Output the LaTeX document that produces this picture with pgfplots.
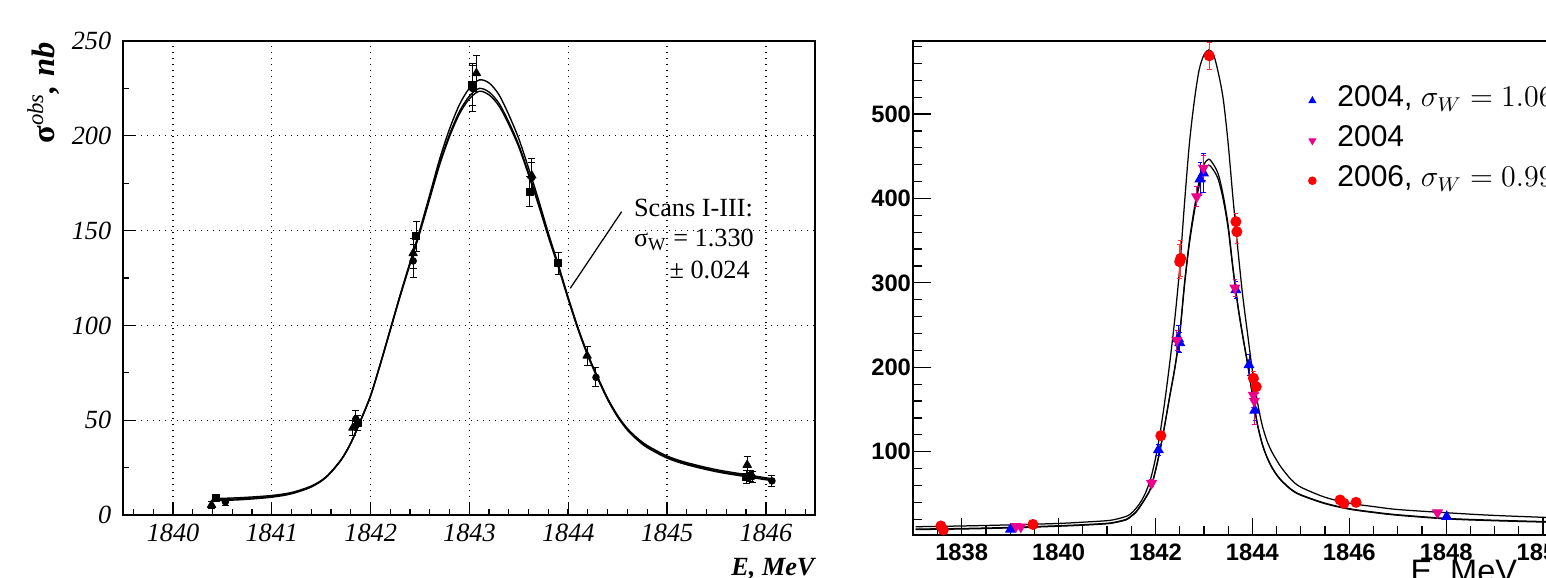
\documentclass[border=0pt]{standalone}
\usepackage{fontspec}
\setmainfont{Liberation Serif}
\newfontfamily\arial{Liberation Sans}
\usepackage{pgfplots}
\pgfplotsset{compat=1.18}
\usepackage{pgfplotstable}

% ---- left panel: fitted curves (three scans) ----
\pgfplotstableread{
x a b c
1840.40 8.6 8.0 7.5
1840.70 9.2 8.6 8.1
1841.00 10.3 9.8 9.4
1841.20 11.9 11.5 11.2
1841.40 15.3 15.0 14.8
1841.55 20.2 20.0 19.9
1841.70 29.2 29.0 28.9
1841.80 38.2 38.0 37.9
1841.90 50.2 50.0 49.9
1842.00 63.2 63.0 62.9
1842.10 80.2 80.0 79.8
1842.20 98.3 98.0 97.7
1842.30 116.4 116.0 115.6
1842.40 133.6 133.0 132.5
1842.50 150.9 150.0 149.3
1842.60 169.4 168.0 167.2
1842.70 188.1 186.0 185.0
1842.80 203.9 201.0 199.8
1842.90 216.6 213.0 211.7
1843.00 225.2 221.0 219.6
1843.10 229.5 225.0 223.5
1843.20 227.8 223.0 221.5
1843.30 221.5 217.0 215.6
1843.40 210.8 207.0 205.7
1843.50 198.3 195.0 193.9
1843.60 182.6 180.0 179.0
1843.70 166.0 164.0 163.2
1843.80 148.3 147.0 146.4
1843.90 131.8 131.0 130.5
1844.00 114.6 114.0 113.6
1844.10 98.5 98.0 97.6
1844.20 84.4 84.0 83.6
1844.30 72.4 72.0 71.6
1844.40 61.4 61.0 60.6
1844.50 52.4 52.0 51.6
1844.60 45.5 45.0 44.6
1844.70 40.5 40.0 39.5
1844.80 36.6 36.0 35.5
1845.00 31.1 30.5 30.0
1845.20 27.6 27.0 26.5
1845.50 23.9 23.3 22.8
1845.80 21.3 20.7 20.2
1846.05 19.2 18.7 18.2
}\leftfit

\pgfplotstableread{
x y e
1840.39 5.3 2
1841.82 46 4
1842.43 138 8
1843.07 233 9.5
1843.63 179 9
1844.19 84 5
1845.81 26.4 4.5
}\lefttri
\pgfplotstableread{
x y e
1840.43 9 1.5
1841.87 48.5 4
1842.46 147 8
1843.03 227 11
1843.61 170.5 8
1843.90 132.7 6
1845.80 20.2 3.5
1845.84 20.5 3
}\leftsq
\pgfplotstableread{
x y e
1840.53 7 1.8
1841.85 50.6 4.5
1842.43 134 8.5
1843.03 225 12
1843.63 178 8
1844.28 72.6 5
1845.86 20.2 3
1846.06 18 3
}\leftci

% ---- right panel: fitted curves ----
\pgfplotstableread{
x t p q
1837.05 11.1 8.4 7.8
1838.0 12.0 9.0 8.4
1839.0 13.3 10.3 9.7
1840.0 15.0 12.3 11.7
1840.5 16.5 13.5 12.9
1841.0 18.3 15.2 14.6
1841.2 20.2 17.0 16.4
1841.4 23.5 20.0 19.4
1841.5 27.0 24.0 23.4
1841.6 33 29 28.4
1841.7 41 37 36.4
1841.8 52 46 45.4
1841.9 68 57 56.4
1842.0 92 78 77.3
1842.1 124 104 103.3
1842.2 163 135 134.2
1842.3 208 168 167.1
1842.4 258 200 198.8
1842.5 318 240 238.5
1842.6 395 300 297.8
1842.7 465 350 346.6
1842.8 515 388 383.4
1842.9 552 420 414.4
1843.0 570 440 433.5
1843.1 576 446.5 439.5
1843.2 570 440 433.3
1843.3 548 428 421.8
1843.4 517 403 398
1843.5 465 368 364.3
1843.6 400 318 315.5
1843.7 340 274 272.2
1843.8 285 238 236.6
1843.9 240 205 204
1844.0 196 168 167.3
1844.1 160 134 133.4
1844.2 132 110 109.4
1844.3 113 94 93.4
1844.4 100 82 81.4
1844.5 90 73 72.4
1844.6 81 66 65.4
1844.8 67 55.5 54.9
1845.0 58 49 48.4
1845.5 46 39 38.4
1846.0 39 32.5 31.9
1846.5 35 28.5 27.9
1847.0 31.5 25.3 24.7
1848.0 27.7 21 20.4
1849.0 24.5 18.8 18.2
1850.5 21.2 16.5 15.9
}\rightfit

\pgfplotstableread{
x y e
1839.01 8.1 2
1842.06 102 6
1842.47 234 15
1842.50 229 12
1842.92 423 20
1842.99 430 23
1843.66 291.6 10
1843.93 202.7 12
1844.05 149 12
1848.01 23 2
}\rblue
\pgfplotstableread{
x y e
1839.12 11.5 2
1839.22 11 2
1841.92 62.6 4
1842.44 232 12
1842.85 402 12
1842.99 436 15
1843.64 294 10
1844.02 167 15
1844.04 160 28
1847.82 27.7 2
}\rmag
\pgfplotstableread{
x y e
1837.57 12 2
1837.62 7.3 2
1839.47 13.8 2
1842.11 119 5
1842.50 325 20
1842.52 329 21
1843.11 569 16
1843.66 372.5 10
1843.68 360.6 14
1844.02 187 8
1844.08 177 8
1845.81 42.8 3
1845.89 38.9 3
1846.14 40 3
}\rred

\begin{document}
\begin{tikzpicture}
\path[use as bounding box] (0pt,0pt) rectangle (618.4pt,230.8pt);
\clip (0pt,0pt) rectangle (618.4pt,230.8pt);

% ================= left panel =================
\begin{axis}[
  at={(49.2pt,24.8pt)}, anchor=south west, scale only axis,
  width=276.8pt, height=189.6pt,
  xmin=1839.494, xmax=1846.496, ymin=0, ymax=250,
  xtick={1840,...,1846}, ytick={0,50,...,250},
  minor xtick={1839.6,1839.8,...,1846.4},
  minor ytick={25,75,...,225},
  tick align=inside, tick pos=left,
  major tick length=5pt, minor tick length=2.5pt,
  grid=major, major grid style={black, dotted, line width=0.5pt},
  minor grid style={draw=none},
  axis line style={line width=0.6pt},
  tick style={black, line width=0.5pt},
  ticklabel style={font=\fontsize{10.5}{12}\selectfont\itshape},
  /pgf/number format/assume math mode=true,
  /pgf/number format/1000 sep={},
  yticklabel style={xshift=-1.2pt},
  every axis plot/.append style={line join=round},
]
  \addplot[black, line width=0.55pt, smooth] table[x=x,y=a] {\leftfit};
  \addplot[black, line width=0.55pt, smooth] table[x=x,y=b] {\leftfit};
  \addplot[black, line width=0.55pt, smooth] table[x=x,y=c] {\leftfit};
  \addplot[only marks, black, mark=triangle*, mark size=1.9pt,
    error bars/.cd, y dir=both, y explicit,
    error bar style={line width=0.4pt},
    error mark options={rotate=90, mark size=1.4pt, line width=0.4pt}]
    table[x=x,y=y,y error=e] {\lefttri};
  \addplot[only marks, black, mark=square*, mark size=1.4pt,
    error bars/.cd, y dir=both, y explicit,
    error bar style={line width=0.4pt},
    error mark options={rotate=90, mark size=1.4pt, line width=0.4pt}]
    table[x=x,y=y,y error=e] {\leftsq};
  \addplot[only marks, black, mark=*, mark size=1.3pt,
    error bars/.cd, y dir=both, y explicit,
    error bar style={line width=0.4pt},
    error mark options={rotate=90, mark size=1.4pt, line width=0.4pt}]
    table[x=x,y=y,y error=e] {\leftci};
  \draw[black, line width=0.5pt] (axis cs:1844.54,160) -- (axis cs:1844.02,119.6);
  \node[anchor=base west, inner sep=0pt, font=\fontsize{10.5}{12}\selectfont]
    at (axis cs:1844.66,157.3) {Scans I-III:};
  \node[anchor=base west, inner sep=0pt, font=\fontsize{10.5}{12}\selectfont]
    at (axis cs:1844.66,141.5) {σ\textsubscript{W} = 1.330};
  \node[anchor=base east, inner sep=0pt, font=\fontsize{10.5}{12}\selectfont]
    at (axis cs:1845.84,124.8) {± 0.024};
\end{axis}
\node[rotate=90, anchor=base east, inner sep=0pt,
  font=\fontsize{13}{15}\selectfont\bfseries\itshape]
  at (21.6pt,214pt) {{\upshape σ}\textsuperscript{\mdseries obs}, nb};
\node[anchor=base east, inner sep=0pt,
  font=\fontsize{10.5}{12}\selectfont\bfseries\itshape]
  at (326pt,0.8pt) {E, MeV};

% ================= right panel =================
\begin{axis}[
  at={(365.3pt,16.8pt)}, anchor=south west, scale only axis,
  width=271.3pt, height=197.6pt,
  xmin=1837, xmax=1851, ymin=1.3, ymax=586.5,
  xtick={1838,1840,...,1850}, ytick={100,200,...,500},
  minor xtick={1837,1837.5,...,1851},
  minor ytick={20,40,...,580},
  tick align=inside, tick pos=left,
  major tick length=7pt, minor tick length=3.5pt,
  axis line style={line width=0.9pt},
  tick style={black, line width=0.5pt},
  ticklabel style={font=\arial\bfseries\fontsize{9.5}{11}\selectfont},
  /pgf/number format/assume math mode=true,
  /pgf/number format/1000 sep={},
  yticklabel style={xshift=2.6pt},
  legend cell align=left,
  legend style={at={(0.573,0.913)}, anchor=north west, draw=none, fill=none,
    inner sep=0pt, row sep=3pt,
    font=\arial\fontsize{12}{14}\selectfont,
    nodes={inner sep=0pt, text height=9pt, text depth=4pt}},
  legend image code/.code={%
    \path[draw=none, fill=none] (-4pt,0pt) rectangle (10pt,0pt);
    \path[draw=none, fill=none, mark size=1.5pt] plot coordinates {(0pt,0pt)};},
]
  \addplot[black, line width=0.5pt, smooth, forget plot] table[x=x,y=t] {\rightfit};
  \addplot[black, line width=0.5pt, smooth, forget plot] table[x=x,y=p] {\rightfit};
  \addplot[black, line width=0.5pt, smooth, forget plot] table[x=x,y=q] {\rightfit};
  \addplot[only marks, color=blue, mark=triangle*, mark size=2.2pt,
    error bars/.cd, y dir=both, y explicit,
    error bar style={line width=0.35pt, blue},
    error mark options={rotate=90, mark size=0.9pt, line width=0.35pt, blue}]
    table[x=x,y=y,y error=e] {\rblue};
  \addlegendentry{2004, $\sigma_W = 1.066$}
  \addplot[only marks, color=magenta, mark=triangle*, mark options={rotate=180}, mark size=2.2pt,
    error bars/.cd, y dir=both, y explicit,
    error bar style={line width=0.35pt, magenta},
    error mark options={rotate=90, mark size=0.9pt, line width=0.35pt, magenta}]
    table[x=x,y=y,y error=e] {\rmag};
  \addlegendentry{2004}
  \addplot[only marks, color=red, mark=*, mark size=2.0pt,
    error bars/.cd, y dir=both, y explicit,
    error bar style={line width=0.35pt, red!80},
    error mark options={rotate=90, mark size=0.9pt, line width=0.35pt, red!80}]
    table[x=x,y=y,y error=e] {\rred};
  \addlegendentry{2006, $\sigma_W = 0.995$}
\end{axis}
\node[anchor=base west, inner sep=0pt, font=\arial\fontsize{13}{15}\selectfont]
  at (564pt,-2pt) {E, MeV};
\end{tikzpicture}
\end{document}
